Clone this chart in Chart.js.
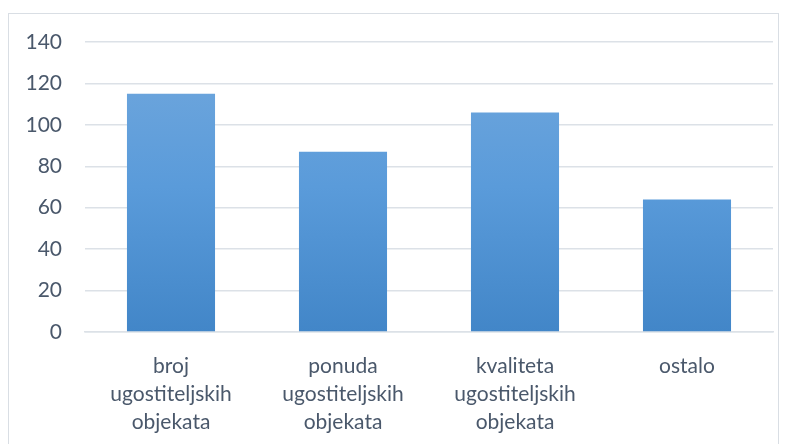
<!DOCTYPE html>
<html>
<head>
<meta charset="utf-8">
<script src="https://cdn.jsdelivr.net/npm/chart.js@4.4.1/dist/chart.umd.min.js"></script>
<style>
  html, body { margin: 0; padding: 0; background: #fff; }
  #wrap { position: absolute; left: 0; top: 0; width: 787px; height: 444px; }
</style>
</head>
<body>
<div id="wrap"><canvas id="c" width="787" height="444"></canvas></div>
<script>
// podaci
var categories = [
  ["broj", "ugostiteljskih", "objekata"],
  ["ponuda", "ugostiteljskih", "objekata"],
  ["kvaliteta", "ugostiteljskih", "objekata"],
  "ostalo"
];
var values = [115, 87, 106, 64];
var yTicks = [0, 20, 40, 60, 80, 100, 120, 140];

var textColor = "#4A586B";
var gridColor = "#DCE1E7";

// okvir oko grafikona
var framePlugin = {
  id: "frame",
  beforeDraw: function (chart) {
    var ctx = chart.ctx;
    ctx.save();
    ctx.fillStyle = "#fff";
    ctx.fillRect(0, 0, chart.width, chart.height);
    ctx.strokeStyle = "#D9DEE4";
    ctx.lineWidth = 1;
    ctx.strokeRect(8.5, 13.5, 770, 440);
    ctx.restore();
  }
};

function barFill(context) {
  var area = context.chart.chartArea;
  if (!area) return "#5B9BD5";
  var g = context.chart.ctx.createLinearGradient(0, area.top, 0, area.bottom);
  g.addColorStop(0, "#72A8DD");
  g.addColorStop(0.5, "#5A9BDA");
  g.addColorStop(1, "#4286C8");
  return g;
}

new Chart(document.getElementById("c"), {
  type: "bar",
  data: {
    labels: categories,
    datasets: [{
      data: values,
      backgroundColor: barFill,
      borderWidth: 0,
      barPercentage: 1,
      categoryPercentage: 0.512
    }]
  },
  plugins: [framePlugin],
  options: {
    responsive: false,
    animation: false,
    layout: { padding: { top: 42, right: 14, left: 0, bottom: 0 } },
    plugins: { legend: { display: false }, tooltip: { enabled: false } },
    scales: {
      y: {
        min: 0, max: 140,
        afterBuildTicks: function (s) { s.ticks = yTicks.map(function (v) { return { value: v }; }); },
        afterFit: function (s) { s.width = 85; },
        ticks: { color: textColor, padding: 23, font: { family: "Lato", size: 21 } },
        grid: { color: gridColor, lineWidth: 1.5, drawTicks: false },
        border: { display: false }
      },
      x: {
        afterFit: function (s) { s.height = 112; },
        ticks: { color: textColor, padding: 20, maxRotation: 0, font: { family: "Lato", size: 21, lineHeight: 1.33 } },
        grid: { display: false, drawTicks: false },
        border: { color: gridColor, width: 1.5 }
      }
    }
  }
});
</script>
</body>
</html>
